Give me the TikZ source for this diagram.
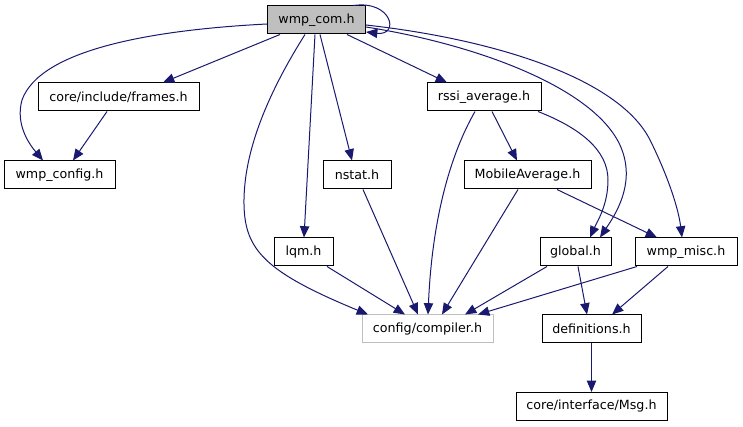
\documentclass[tikz,border=0pt]{standalone}
\usepackage{fontspec}
\setmainfont{DejaVu Sans}
\usetikzlibrary{arrows.meta,calc}
\definecolor{edgecol}{HTML}{191970}
\definecolor{grayfill}{HTML}{BFBFBF}
\begin{document}
\begin{tikzpicture}[x=0.75pt,y=-0.75pt,
  box/.style={draw=black,line width=0.75pt,fill=white,minimum height=21pt,inner sep=0pt,font=\fontsize{9.5}{11}\selectfont},
  dep/.style={draw=edgecol,line width=0.75pt,-{Triangle[length=8.5pt,width=7pt]}}]
\useasboundingbox (0,0) rectangle (743,427);

\node[box,fill=grayfill,minimum width=73.5pt] (com) at (316.5,20) {wmp\_com.h};
\node[box,minimum width=120.75pt] (frames) at (118.5,97) {core/include/frames.h};
\node[box,minimum width=83.25pt] (config) at (59.5,175) {wmp\_config.h};
\node[box,minimum width=85.5pt] (rssi) at (484,97) {rssi\_average.h};
\node[box,minimum width=51pt] (nstat) at (357,175) {nstat.h};
\node[box,minimum width=95.25pt] (mobavg) at (527.5,175) {MobileAverage.h};
\node[box,minimum width=44.25pt] (lqm) at (303.5,252) {lqm.h};
\node[box,minimum width=53.25pt] (global) at (575.5,252) {global.h};
\node[box,minimum width=76.5pt] (misc) at (686,252) {wmp\_misc.h};
\node[box,draw=grayfill,minimum width=98.25pt] (compiler) at (427.5,329) {config/compiler.h};
\node[box,minimum width=74.25pt] (defs) at (591.5,329) {definitions.h};
\node[box,minimum width=113.25pt] (msg) at (591.5,406.5) {core/interface/Msg.h};

% self loop
\draw[dep] ($(com.north east)+(-12.5,0)$) .. controls (392,0) and (400,36) .. ($(com.east)+(0,12)$);
% com -> config
\draw[dep] ($(com.west)+(0,4)$) .. controls (150,30) and (40,50) .. (22,100)
  .. controls (15,125) and (30,145) .. ($(config.north)+(-16.5,0)$);
% com -> frames
\draw[dep] ($(com.south)+(-36.5,0)$) -- ($(frames.north)+(44.5,0)$);
% frames -> config
\draw[dep] ($(frames.south)+(-11.5,0)$) -- ($(config.north)+(13.5,0)$);
% com -> compiler
\draw[dep] ($(com.south)+(-11.5,0)$) .. controls (270,90) and (243,150) .. (244,205)
  .. controls (245,250) and (265,272) .. ($(compiler.north)+(-59.5,0)$);
% com -> lqm
\draw[dep] ($(com.south)+(-1.5,0)$) -- ($(lqm.north)+(0.5,0)$);
% com -> nstat
\draw[dep] ($(com.south)+(3.5,0)$) -- ($(nstat.north)+(-5,0)$);
% com -> rssi
\draw[dep] ($(com.south)+(30.5,0)$) -- ($(rssi.north)+(-37,0)$);
% com -> global
\draw[dep] ($(com.east)+(0,7)$) .. controls (480,45) and (600,90) .. (622,150)
  .. controls (635,185) and (615,215) .. ($(global.north)+(24.5,0)$);
% com -> misc
\draw[dep] ($(com.east)+(0,5)$) .. controls (500,40) and (620,80) .. (650,140)
  .. controls (665,170) and (678,205) .. ($(misc.north)+(-4,0)$);
% rssi -> global
\draw[dep] ($(rssi.south)+(54,0)$) .. controls (580,128) and (608,150) .. (608,180)
  .. controls (608,205) and (597,222) .. ($(global.north)+(14.5,0)$);
% rssi -> mobavg
\draw[dep] ($(rssi.south)+(8,0)$) -- ($(mobavg.north)+(-10.5,0)$);
% rssi -> compiler
\draw[dep] ($(rssi.south)+(-9,0)$) .. controls (450,155) and (432,220) .. ($(compiler.north)+(0.5,0)$);
% nstat -> compiler
\draw[dep] ($(nstat.south)+(6,0)$) -- ($(compiler.north)+(-9.5,0)$);
% mobavg -> compiler
\draw[dep] ($(mobavg.south)+(-9.5,0)$) -- ($(compiler.north)+(14.5,0)$);
% mobavg -> misc
\draw[dep] ($(mobavg.south)+(29.5,0)$) -- ($(misc.north)+(-29,0)$);
% lqm -> compiler
\draw[dep] ($(lqm.south)+(23.5,0)$) -- ($(compiler.north)+(-22.5,0)$);
% global -> compiler
\draw[dep] ($(global.south)+(-28.5,0)$) -- ($(compiler.north)+(37.5,0)$);
% global -> defs
\draw[dep] ($(global.south)+(2.5,0)$) -- ($(defs.north)+(-4.5,0)$);
% misc -> compiler
\draw[dep] ($(misc.south)+(-49,0)$) -- ($(compiler.north)+(50.5,0)$);
% misc -> defs
\draw[dep] ($(misc.south)+(-18,0)$) -- ($(defs.north)+(20.5,0)$);
% defs -> msg
\draw[dep] (defs) -- (msg);
\end{tikzpicture}
\end{document}
